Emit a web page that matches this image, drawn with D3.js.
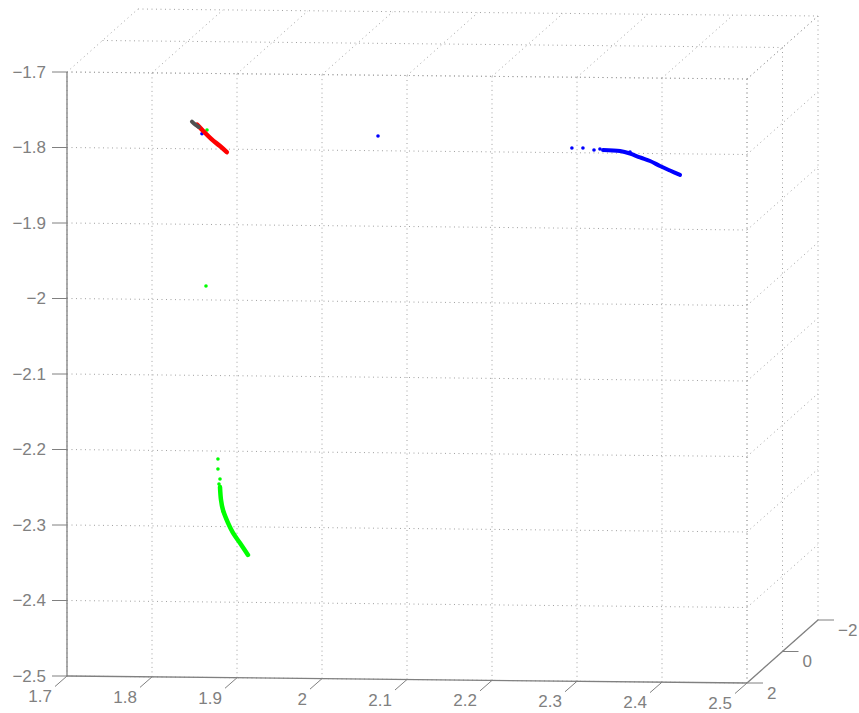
<!DOCTYPE html>
<html>
<head>
<meta charset="utf-8">
<script src="https://cdn.jsdelivr.net/npm/d3@7"></script>
<style>
    body { margin: 0; background: #fff; }
    text { font-family: 'Liberation Sans', Arial, sans-serif; font-size: 17px; fill: #808080; }
</style>
</head>
<body>
<script>
const chartWidth = 859;
const chartHeight = 713;

// axis ticks
const xTicks = [1.7, 1.8, 1.9, 2.0, 2.1, 2.2, 2.3, 2.4, 2.5];
const xTickLabels = ['1.7', '1.8', '1.9', '2', '2.1', '2.2', '2.3', '2.4', '2.5'];
const yTicks = [-2, 0, 2];
const yTickLabels = ['\u22122', '0', '2'];
const zTicks = [-1.7, -1.8, -1.9, -2.0, -2.1, -2.2, -2.3, -2.4, -2.5];
const zTickLabels = ['\u22121.7', '\u22121.8', '\u22121.9', '\u22122', '\u22122.1', '\u22122.2', '\u22122.3', '\u22122.4', '\u22122.5'];

// series: [x, z] pairs, all on the y = 2 plane
const depth = 2;
const grayTrail = [[1.847, -1.764], [1.851, -1.768], [1.855, -1.771]];
const redTrail = [[1.853, -1.768], [1.860, -1.776], [1.870, -1.787], [1.880, -1.796], [1.888, -1.804]];
const redStray = [];
const blueTrail = [[2.3306, -1.796], [2.3506, -1.7971], [2.3624, -1.8003], [2.3741, -1.8054],
    [2.3859, -1.8099], [2.3976, -1.8164], [2.4094, -1.8223], [2.4212, -1.828]];
const blueStray = [[1.8588, -1.780], [2.0659, -1.7805], [2.294, -1.7938], [2.307, -1.7936],
    [2.320, -1.7961], [2.327, -1.7947], [2.3624, -1.7985]];
const greenTrail = [[1.880, -2.2476], [1.8812, -2.2648], [1.8835, -2.278], [1.8894, -2.2951],
    [1.8953, -2.3083], [1.9035, -2.3215], [1.9129, -2.3372]];
const greenStray = [[1.8647, -1.775], [1.8635, -1.9816], [1.8776, -2.2105], [1.8776, -2.2238],
    [1.880, -2.237], [1.8788, -2.2436], [1.8835, -2.2795]];

const chart = d3.select('body')
    .append('svg')
    .attr('width', chartWidth)
    .attr('height', chartHeight);

// projection of the 3d box onto the page
const x = d3.scaleLinear().domain([1.7, 2.5]).range([67, 747]);
const z = d3.scaleLinear().domain([-1.7, -2.5]).range([72, 676]);
const skew = d3.scaleLinear().domain([1.7, 2.5]).range([0, 7]);
const dx = d3.scaleLinear().domain([2, -2]).range([0, 71]);
const dy = d3.scaleLinear().domain([2, -2]).range([0, -63]);

function proj(px, py, pz) {
    return [x(px) + dx(py), z(pz) + skew(px) + dy(py)];
}

// grid lines on the three back planes
const grid = [];
xTicks.forEach(t => {
    grid.push([proj(t, 2, -1.7), proj(t, 2, -2.5)]);
    grid.push([proj(t, 2, -1.7), proj(t, -2, -1.7)]);
});
zTicks.forEach(t => {
    grid.push([proj(1.7, 2, t), proj(2.5, 2, t)]);
    grid.push([proj(2.5, 2, t), proj(2.5, -2, t)]);
});
yTicks.forEach(t => {
    grid.push([proj(1.7, t, -1.7), proj(2.5, t, -1.7)]);
    grid.push([proj(2.5, t, -1.7), proj(2.5, t, -2.5)]);
});

chart.append('g')
    .selectAll('line')
    .data(grid)
    .enter()
    .append('line')
    .attr('x1', d => d[0][0]).attr('y1', d => d[0][1])
    .attr('x2', d => d[1][0]).attr('y2', d => d[1][1])
    .attr('stroke', '#a0a0a0')
    .attr('stroke-width', 1)
    .attr('stroke-dasharray', '1,3.5');

// data
const line = d3.line()
    .curve(d3.curveCatmullRom)
    .x(d => proj(d[0], depth, d[1])[0])
    .y(d => proj(d[0], depth, d[1])[1]);

function trail(data, color, width) {
    chart.append('path')
        .attr('d', line(data))
        .attr('fill', 'none')
        .attr('stroke', color)
        .attr('stroke-width', width)
        .attr('stroke-linecap', 'round')
        .attr('stroke-linejoin', 'round');
}
function stray(data, color) {
    chart.append('g')
        .selectAll('circle')
        .data(data)
        .enter()
        .append('circle')
        .attr('cx', d => proj(d[0], depth, d[1])[0])
        .attr('cy', d => proj(d[0], depth, d[1])[1])
        .attr('r', 1.8)
        .attr('fill', color);
}

trail(greenTrail, '#00ff00', 4.5);
stray(greenStray, '#00ff00');
trail(blueTrail, '#0000ff', 4);
stray(blueStray, '#0000ff');
trail(redTrail, '#ff0000', 4.5);
stray(redStray, '#ff0000');
trail(grayTrail, '#505050', 4);

// axis lines
const axisColor = '#808080';
const axes = [
    [proj(1.7, 2, -1.7), proj(1.7, 2, -2.5)],
    [proj(1.7, 2, -2.5), proj(2.5, 2, -2.5)],
    [proj(2.5, 2, -2.5), proj(2.5, -2, -2.5)]
];
chart.append('g')
    .selectAll('line')
    .data(axes)
    .enter()
    .append('line')
    .attr('x1', d => d[0][0]).attr('y1', d => d[0][1])
    .attr('x2', d => d[1][0]).attr('y2', d => d[1][1])
    .attr('stroke', axisColor)
    .attr('stroke-width', 1.3);

// x ticks and labels
const xg = chart.append('g');
xTicks.forEach((t, i) => {
    const [px, py] = proj(t, 2, -2.5);
    xg.append('line')
        .attr('x1', px).attr('y1', py)
        .attr('x2', px - 12).attr('y2', py + 10.5)
        .attr('stroke', axisColor);
    xg.append('text')
        .attr('x', px - 15)
        .attr('y', py + 26)
        .attr('text-anchor', 'end')
        .text(xTickLabels[i]);
});

// z ticks and labels
const zg = chart.append('g');
zTicks.forEach((t, i) => {
    const [px, py] = proj(1.7, 2, t);
    zg.append('line')
        .attr('x1', px - 15).attr('y1', py)
        .attr('x2', px).attr('y2', py)
        .attr('stroke', axisColor);
    zg.append('text')
        .attr('x', px - 21)
        .attr('y', py)
        .attr('dy', '0.35em')
        .attr('text-anchor', 'end')
        .text(zTickLabels[i]);
});

// y (depth) ticks and labels
const yg = chart.append('g');
yTicks.forEach((t, i) => {
    const [px, py] = proj(2.5, t, -2.5);
    yg.append('line')
        .attr('x1', px).attr('y1', py)
        .attr('x2', px + 16).attr('y2', py)
        .attr('stroke', axisColor);
    yg.append('text')
        .attr('x', px + 20)
        .attr('y', py + 10)
        .attr('dy', '0.35em')
        .attr('text-anchor', 'start')
        .text(yTickLabels[i]);
});
</script>
</body>
</html>
